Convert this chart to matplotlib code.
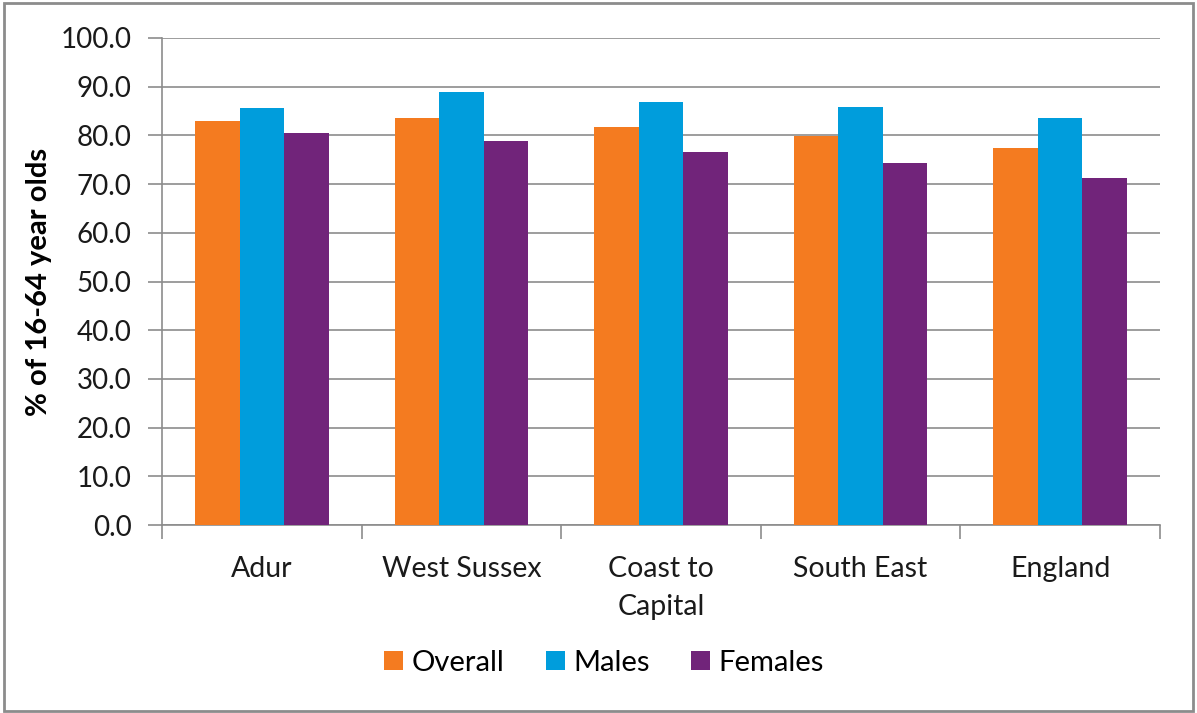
import numpy as np
import matplotlib.pyplot as plt
from matplotlib.patches import Rectangle

plt.rcParams['font.family'] = ['Lato', 'DejaVu Sans']

categories = ['Adur', 'West Sussex', 'Coast to\nCapital', 'South East', 'England']
series = ['Overall', 'Males', 'Females']
overall = [83.0, 83.6, 81.8, 79.9, 77.5]
males = [85.6, 88.9, 86.9, 85.9, 83.6]
females = [80.4, 78.8, 76.5, 74.3, 71.3]
colors = ['#F47B20', '#009DDC', '#71247A']

W, H = 1197, 713
fig = plt.figure(figsize=(W / 100, H / 100), dpi=100)
ax = fig.add_axes([162 / W, 1 - 525 / H, (1160 - 162) / W, (525 - 38) / H])

x = np.arange(len(categories))
bw = 0.223
for i, (vals, name) in enumerate(zip([overall, males, females], series)):
    ax.bar(x + (i - 1) * bw, vals, width=bw, color=colors[i], label=name, zorder=3)

ax.set_xlim(-0.5, len(categories) - 0.5)
ax.set_ylim(0, 100)
ax.set_yticks(np.arange(0, 101, 10))
ax.set_yticklabels([f'{v:.1f}' for v in np.arange(0, 101, 10)])
ax.yaxis.grid(True, color='#8c8c8c', linewidth=1.2, zorder=0)
ax.set_axisbelow(True)

ax.set_xticks(np.arange(-0.5, len(categories), 1))
ax.set_xticklabels([])
ax.set_xticks(x, minor=True)
ax.set_xticklabels(categories, minor=True, fontsize=20.5, color='#1a1a1a', linespacing=1.6)
ax.tick_params(axis='x', which='minor', length=0, pad=22)
ax.tick_params(axis='x', which='major', length=10, color='#8c8c8c', width=1.2)
ax.tick_params(axis='y', length=10, color='#8c8c8c', width=1.2, labelsize=20,
               labelcolor='#1a1a1a', pad=12)

for s in ['top', 'right']:
    ax.spines[s].set_visible(False)
for s in ['left', 'bottom']:
    ax.spines[s].set_color('#8c8c8c')
    ax.spines[s].set_linewidth(1.2)

ax.set_ylabel('% of 16-64 year olds', fontsize=21, fontweight='bold', labelpad=6)

fig.legend(loc='center', bbox_to_anchor=(604 / W, 1 - 663 / H), ncol=3, frameon=False,
           fontsize=21, handlelength=0.65, handleheight=0.65, handletextpad=0.3,
           columnspacing=1.4)

fig.patches.append(Rectangle((4 / W, 2 / H), (W - 8) / W, (H - 5) / H, transform=fig.transFigure,
                             fill=False, edgecolor='#8c8c8c', linewidth=2))

fig.savefig('out.png', dpi=100)
